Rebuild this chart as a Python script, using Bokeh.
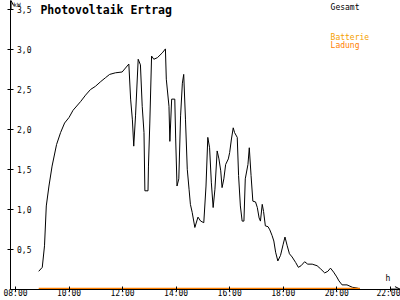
from bokeh.plotting import figure
from bokeh.models import (FixedTicker, CustomJSTickFormatter, Label, Arrow, OpenHead, ColumnDataSource)
from bokeh.embed import file_html
from bokeh.resources import INLINE

# ---- data ----
gesamt_time = ["08:52","09:00","09:05","09:09","09:15","09:22","09:32","09:41","09:50","10:00",
               "10:09","10:26","10:37","10:48","10:59","11:11","11:22","11:31","11:44","11:59",
               "12:14","12:18","12:22","12:25","12:29","12:35","12:40","12:44","12:48","12:50",
               "12:57","12:58","13:01","13:05","13:10","13:18","13:29","13:36","13:38","13:44",
               "13:46","13:50","13:57","13:59","14:02","14:06","14:10","14:14","14:17","14:21",
               "14:25","14:29","14:32","14:36","14:42","14:49","14:55","15:02","15:07","15:11",
               "15:15","15:19","15:23","15:27","15:32","15:36","15:40","15:43","15:47","15:51",
               "15:57","16:00","16:04","16:08","16:11","16:17","16:20","16:24","16:28","16:32",
               "16:35","16:41","16:44","16:48","16:52","16:58","17:02","17:06","17:09","17:13",
               "17:16","17:20","17:26","17:30","17:35","17:39","17:43","17:48","17:54","18:00",
               "18:04","18:09","18:14","18:20","18:28","18:34","18:40","18:48","18:55","19:05",
               "19:16","19:24","19:33","19:40","19:46","19:53","20:00","20:05","20:12","20:23",
               "20:35","20:46","20:52"]
gesamt_kw = [0.22,0.27,0.54,1.04,1.29,1.54,1.81,1.96,2.08,2.15,
             2.24,2.35,2.43,2.50,2.54,2.60,2.65,2.69,2.71,2.72,
             2.82,2.38,2.12,1.79,2.17,2.88,2.81,2.29,1.96,1.23,
             1.23,1.54,2.08,2.92,2.88,2.90,2.96,3.01,2.63,2.29,
             1.85,2.38,2.38,1.88,1.29,1.38,2.17,2.58,2.69,2.12,
             1.50,1.25,1.06,0.96,0.77,0.90,0.85,0.83,1.29,1.90,
             1.77,1.33,1.02,1.25,1.73,1.63,1.48,1.27,1.38,1.56,
             1.63,1.71,1.88,2.02,1.96,1.90,1.42,1.04,0.85,0.85,
             1.38,1.56,1.77,1.42,1.10,1.09,1.02,0.89,0.85,1.06,
             0.97,0.79,0.78,0.74,0.67,0.60,0.46,0.35,0.42,0.56,
             0.65,0.54,0.44,0.40,0.33,0.27,0.29,0.34,0.31,0.31,
             0.29,0.25,0.20,0.22,0.26,0.21,0.15,0.10,0.05,0.05,
             0.02,0.01,0.00]
ladung_time = ["08:52", "20:52"]
ladung_kw = [0.0, 0.0]

x_ticks = [8, 10, 12, 14, 16, 18, 20, 22]
y_ticks = [0.5, 1.0, 1.5, 2.0, 2.5, 3.0, 3.5]

title_text = "Photovoltaik Ertrag"
legend_gesamt = "Gesamt"
legend_batterie = "Batterie"
legend_ladung = "Ladung"


def to_hours(t):
    h, m = t.split(":")
    return int(h) + int(m) / 60.0


FONT = "DejaVu Sans Mono"
X0, X1 = 7.813, 22.382
Y0, Y1 = -0.008, 3.617

p = figure(width=400, height=300, output_backend="svg", toolbar_location=None,
           x_range=(X0, X1), y_range=(Y0, Y1),
           min_border_left=10, min_border_right=0, min_border_top=0, min_border_bottom=10)
p.grid.visible = False
p.outline_line_color = None
p.background_fill_color = "white"
p.border_fill_color = "white"

# axes
xa = p.xaxis[0]
xa.ticker = FixedTicker(ticks=x_ticks)
xa.formatter = CustomJSTickFormatter(code="return (tick < 10 ? '0' : '') + tick + ':00';")
xa.major_tick_in = 3
xa.major_tick_out = 2
xa.minor_tick_line_color = None
xa.major_label_standoff = -3
xa.major_label_text_font = FONT
xa.major_label_text_font_size = "8px"
xa.major_label_text_color = "black"
xa.axis_line_color = "black"

ya = p.yaxis[0]
ya.ticker = FixedTicker(ticks=y_ticks)
ya.formatter = CustomJSTickFormatter(code="return tick.toFixed(1).replace('.', ',');")
ya.major_tick_in = 3
ya.major_tick_out = 3
ya.minor_tick_line_color = None
ya.major_label_standoff = -24
ya.major_label_text_font = FONT
ya.major_label_text_font_size = "8px"
ya.major_label_text_color = "black"
ya.axis_line_color = "black"

src_g = ColumnDataSource(dict(t=[to_hours(t) for t in gesamt_time], kw=gesamt_kw))
src_l = ColumnDataSource(dict(t=[to_hours(t) for t in ladung_time], kw=ladung_kw))
p.line("t", "kw", source=src_g, line_color="black", line_width=1)
p.line("t", "kw", source=src_l, line_color="#ff8000", line_width=2)

# axis arrows
p.add_layout(Arrow(end=OpenHead(size=5, line_width=1, line_color="black"),
                   x_start=X0 + 0.02, y_start=3.5, x_end=X0 + 0.02, y_end=Y1,
                   line_color="black", line_width=1))
p.add_layout(Arrow(end=OpenHead(size=5, line_width=1, line_color="black"),
                   x_start=22.0, y_start=Y0 + 0.005, x_end=X1 - 0.02, y_end=Y0 + 0.005,
                   line_color="black", line_width=1))

# labels
p.add_layout(Label(x=8.93, y=3.59, text=title_text, text_font=FONT, text_font_style="bold",
                   text_font_size="11.5px", text_baseline="top", text_color="black"))
p.add_layout(Label(x=19.77, y=3.59, text=legend_gesamt, text_font=FONT,
                   text_font_size="8px", text_baseline="top", text_color="black"))
p.add_layout(Label(x=19.77, y=3.215, text=legend_batterie, text_font=FONT,
                   text_font_size="8px", text_baseline="top", text_color="#f5a000"))
p.add_layout(Label(x=19.77, y=3.115, text=legend_ladung, text_font=FONT,
                   text_font_size="8px", text_baseline="top", text_color="#ff8000"))
p.add_layout(Label(x=7.92, y=3.612, text="kW", text_font=FONT,
                   text_font_size="6px", text_baseline="top", text_color="black"))
p.add_layout(Label(x=21.82, y=0.07, text="h", text_font=FONT,
                   text_font_size="8px", text_baseline="bottom", text_color="black"))

open("out.html", "w").write(file_html(p, INLINE))
